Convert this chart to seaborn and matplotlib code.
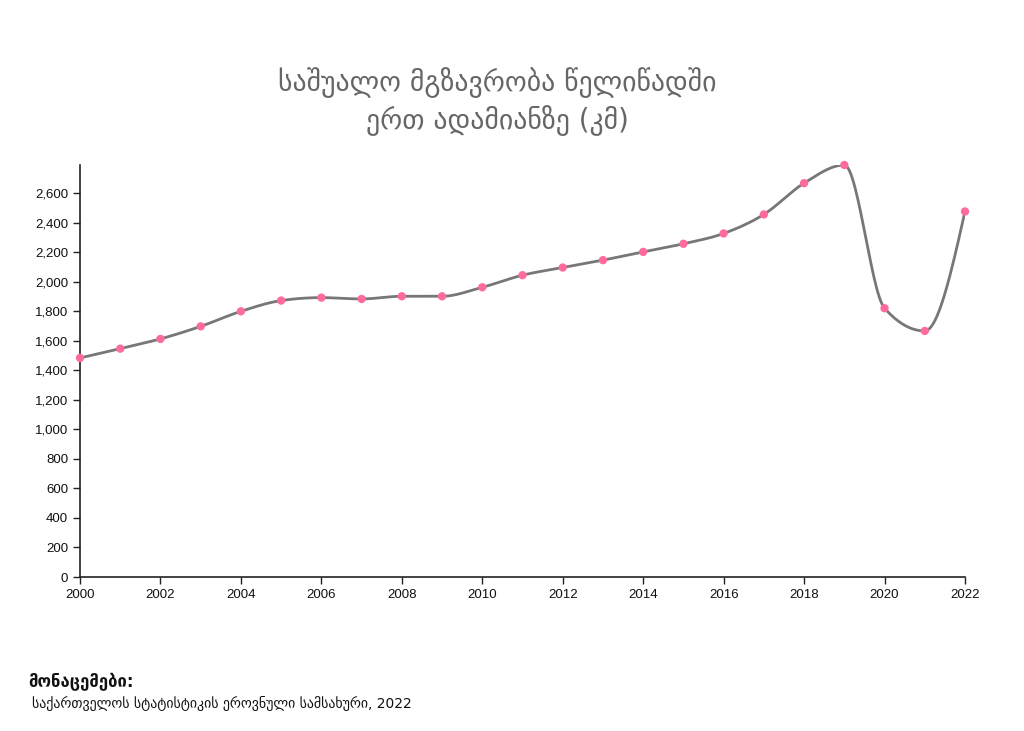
import numpy as np
import pandas as pd
import matplotlib
matplotlib.use("Agg")
import matplotlib.pyplot as plt
import seaborn as sns
from matplotlib.ticker import FuncFormatter, MultipleLocator

# average travel per person per year (km)
years = list(range(2000, 2023))
km = [1485, 1548, 1614, 1699, 1801, 1874, 1894, 1885, 1903, 1903, 1964,
      2046, 2098, 2148, 2204, 2259, 2329, 2458, 2670, 2793, 1822, 1668, 2478]

title = "საშუალო მგზავრობა წელიწადში\nერთ ადამიანზე (კმ)"
source_head = "მონაცემები:"
source_text = "საქართველოს სტატისტიკის ეროვნული სამსახური, 2022"

sns.set_style("ticks")
plt.rcParams['font.family'] = ['Liberation Sans', 'DejaVu Sans']

df = pd.DataFrame({"year": years, "km": km})


# monotone cubic smoothing of the line (like d3 curveMonotoneX)
def monotone_curve(x, y, n=30):
    x = np.asarray(x, float)
    y = np.asarray(y, float)
    h = np.diff(x)
    s = np.diff(y) / h
    t = np.zeros_like(y)
    for i in range(1, len(y) - 1):
        p = (s[i - 1] * h[i] + s[i] * h[i - 1]) / (h[i - 1] + h[i])
        t[i] = (np.sign(s[i - 1]) + np.sign(s[i])) * min(abs(s[i - 1]), abs(s[i]), 0.5 * abs(p))
    t[0] = (3 * s[0] - t[1]) / 2
    t[-1] = (3 * s[-1] - t[-2]) / 2
    xs, ys = [], []
    for i in range(len(h)):
        u = np.linspace(0, 1, n, endpoint=False)
        h00 = 2 * u**3 - 3 * u**2 + 1
        h10 = u**3 - 2 * u**2 + u
        h01 = -2 * u**3 + 3 * u**2
        h11 = u**3 - u**2
        xs.append(x[i] + u * h[i])
        ys.append(h00 * y[i] + h10 * h[i] * t[i] + h01 * y[i + 1] + h11 * h[i] * t[i + 1])
    xs.append([x[-1]])
    ys.append([y[-1]])
    return np.concatenate(xs), np.concatenate(ys)


cx, cy = monotone_curve(df["year"], df["km"])
curve = pd.DataFrame({"year": cx, "km": cy})

fig = plt.figure(figsize=(10.24, 7.31), dpi=100)
ax = fig.add_axes([80 / 1024, 1 - 577 / 731, 885 / 1024, 412 / 731])

sns.lineplot(data=curve, x="year", y="km", ax=ax, color="#777777", linewidth=2, zorder=2)
sns.scatterplot(data=df, x="year", y="km", ax=ax, color="#ff6b9d", s=36,
                edgecolor="none", zorder=3, clip_on=False)

ax.set_xlim(2000, 2022)
ax.set_ylim(0, max(km))
ax.xaxis.set_major_locator(MultipleLocator(2))
ax.yaxis.set_major_locator(MultipleLocator(200))
ax.yaxis.set_major_formatter(FuncFormatter(lambda v, p: f"{int(v):,}"))
ax.set_xlabel("")
ax.set_ylabel("")
ax.tick_params(axis="both", labelsize=9.5, length=5, width=1, color="#222222", labelcolor="#111111")
for side in ["top", "right"]:
    ax.spines[side].set_visible(False)
for side in ["left", "bottom"]:
    ax.spines[side].set_color("#222222")
    ax.spines[side].set_linewidth(1.2)

fig.text(0.486, 0.861, title, ha="center", va="center", fontsize=20,
         color="#666666", linespacing=1.3, family=['DejaVu Sans'])
fig.text(0.028, 0.067, source_head, ha="left", va="center", fontsize=12,
         color="#111111", family=['DejaVu Sans'], fontweight="bold")
fig.text(0.031, 0.038, source_text, ha="left", va="center", fontsize=10,
         color="#111111", family=['DejaVu Sans'])

fig.savefig("out.png", dpi=100)
